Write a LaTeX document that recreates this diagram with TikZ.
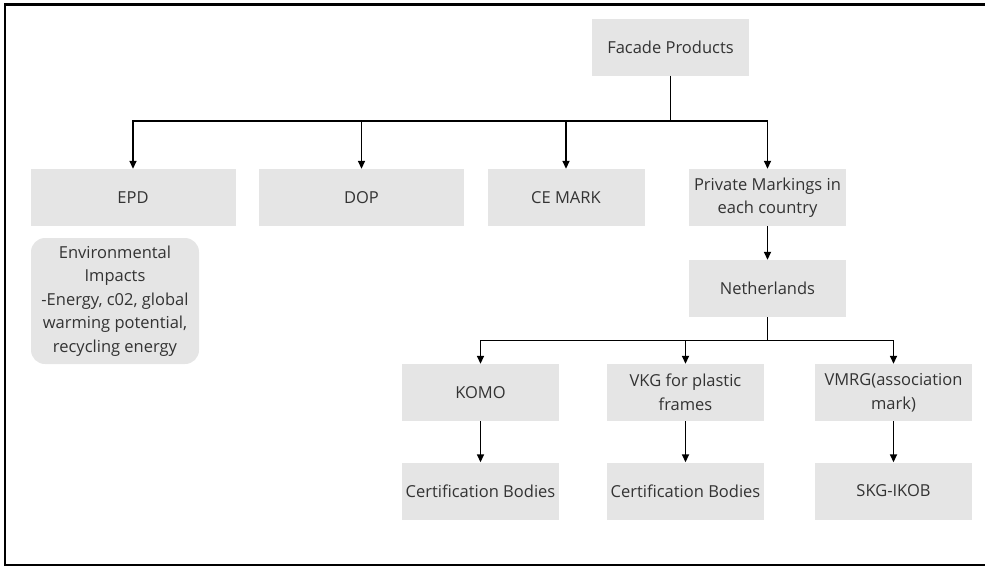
\documentclass[tikz,border=0pt]{standalone}
\usepackage{fontspec}
\setmainfont{Open Sans}
\usetikzlibrary{arrows.meta}
\definecolor{boxgray}{HTML}{E5E5E5}
\definecolor{txt}{HTML}{333333}
\begin{document}
\begin{tikzpicture}[x=1pt,y=-1pt,
  box/.style={fill=boxgray, text=txt, align=center, inner sep=0pt,
    font=\fontsize{16.5}{23.5}\selectfont, minimum height=57pt},
  wide/.style={box, minimum width=205pt},
  narrow/.style={box, minimum width=157pt},
  conn/.style={line width=1.6pt, black},
  arr/.style={conn, -{Triangle[length=8pt,width=7pt]}}]
\useasboundingbox (0,0) rectangle (985,566);
\draw[line width=2.2pt] (995,4.5) -- (5,4.5) -- (5,565) -- (995,565);

\node[narrow] (fac) at (670.5,47) {Facade Products};
\node[wide] (epd) at (133,197.5) {EPD};
\node[wide] (dop) at (361.5,197.5) {DOP};
\node[narrow] (ce) at (566,197.5) {CE MARK};
\node[narrow] (pm) at (767.5,197.5) {Private Markings in\\each country};
\node[box, minimum width=168pt, minimum height=126pt, rounded corners=14pt] (env) at (115,301) {Environmental\\Impacts\\-Energy, c02, global\\warming potential,\\recycling energy};
\node[narrow] (nl) at (767.5,288.5) {Netherlands};
\node[narrow] (komo) at (480.5,392.5) {KOMO};
\node[narrow] (vkg) at (685.5,392.5) {VKG for plastic\\frames};
\node[narrow] (vmrg) at (893.5,392.5) {VMRG(association\\mark)};
\node[narrow] (cb1) at (480.5,491) {Certification Bodies};
\node[narrow] (cb2) at (685.5,491) {Certification Bodies};
\node[narrow] (skg) at (893.5,491) {SKG-IKOB};

\coordinate (j1) at (670.5,121);
\coordinate (j2) at (767.5,340.5);
\draw[conn] (fac.south) -- (j1);
\draw[arr] (j1) -| (epd.north);
\draw[arr] (j1) -| (dop.north);
\draw[arr] (j1) -| (ce.north);
\draw[arr] (j1) -| (pm.north);
\draw[arr] (pm.south) -- (nl.north);
\draw[conn] (nl.south) -- (j2);
\draw[arr] (j2) -| (komo.north);
\draw[arr] (j2) -| (vkg.north);
\draw[arr] (j2) -| (vmrg.north);
\draw[arr] (komo.south) -- (cb1.north);
\draw[arr] (vkg.south) -- (cb2.north);
\draw[arr] (vmrg.south) -- (skg.north);
\end{tikzpicture}
\end{document}
